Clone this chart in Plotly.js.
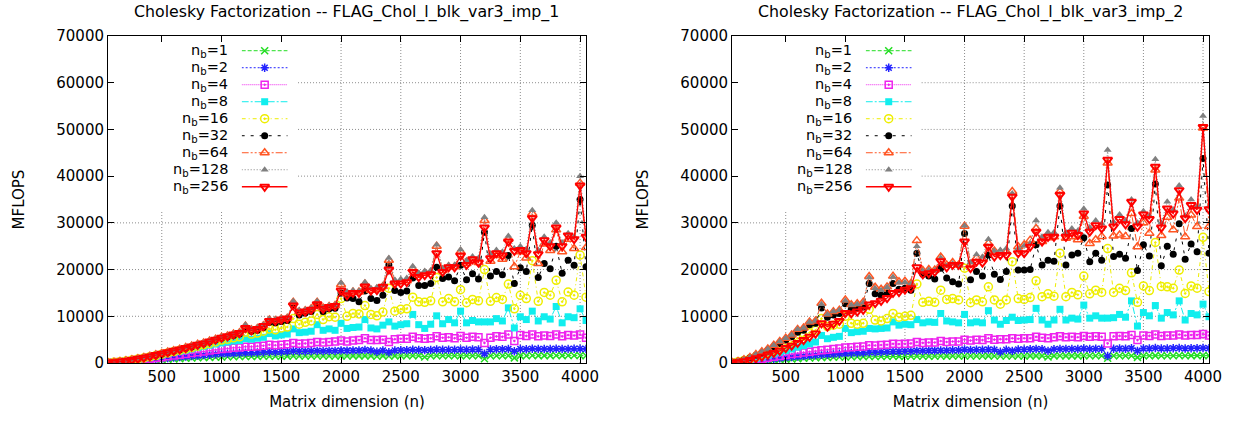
<!DOCTYPE html>
<html>
<head>
<meta charset="utf-8">
<script src="https://cdn.plot.ly/plotly-3.0.1.min.js"></script>
<style>html,body{margin:0;padding:0;background:#fff;}#chart{width:1234px;height:422px;}</style>
</head>
<body>
<div id="chart"></div>
<script>
// ---------- DATA ----------
const matrixDim = [50,100,150,200,250,300,350,400,450,500,550,600,650,700,750,800,850,900,950,1000,
1050,1100,1150,1200,1250,1300,1350,1400,1450,1500,1550,1600,1650,1700,1750,1800,1850,1900,1950,2000,
2050,2100,2150,2200,2250,2300,2350,2400,2450,2500,2550,2600,2650,2700,2750,2800,2850,2900,2950,3000,
3050,3100,3150,3200,3250,3300,3350,3400,3450,3500,3550,3600,3650,3700,3750,3800,3850,3900,3950,4000,4050];

const blockSizes = ["1","2","4","8","16","32","64","128","256"];
const titles = ["Cholesky Factorization -- FLAG_Chol_l_blk_var3_imp_1", "Cholesky Factorization -- FLAG_Chol_l_blk_var3_imp_2"];
const xTickVals = [500,1000,1500,2000,2500,3000,3500,4000];
const yTickVals = [0,10000,20000,30000,40000,50000,60000,70000];

// imp_1 (left panel)
const imp1_nb1 = [40,90,160,230,310,390,470,550,630,710,790,860,930,1000,1060,1110,1160,1210,1250,1290,
1320,1350,1380,1400,1400,1420,1440,1450,1450,1460,1470,1480,1480,1480,1490,1500,1500,1500,1500,1520,
1500,1520,1520,1530,1520,1450,1530,1480,1530,1540,1540,1550,1540,1300,1540,1560,1550,1550,1550,1560,
1550,1560,1560,900,1560,1570,1570,1580,1100,1580,1570,1590,1580,1580,1580,1590,1580,1590,1590,1600,1550];
const imp1_nb2 = [50,110,190,280,380,490,600,710,820,940,1050,1160,1270,1380,1480,1580,1680,1780,1870,1950,
2000,2050,2100,2200,2200,2250,2300,2400,2350,2400,2450,2550,2500,2500,2550,2600,2550,2600,2600,2700,
2650,2700,2700,2800,2700,2400,2700,2300,2700,2750,2750,2850,2800,2750,2800,2900,2850,2850,2850,2900,
2850,2900,2900,2000,2900,2950,2950,3000,2500,3000,2950,3050,3000,3000,3000,3050,3000,3000,3050,3050,3000];
const imp1_nb4 = [60,130,230,350,480,620,770,920,1080,1250,1420,1600,1780,1950,2120,2300,2480,2650,2820,3000,
3100,3250,3300,3500,3500,3600,3700,3900,3800,3900,4000,4300,4100,4200,4300,4500,4400,4500,4600,4800,
4600,4800,4900,5300,4900,4900,5000,4500,5100,5200,5200,5600,5300,5200,5300,5700,5400,5500,5300,5800,
5400,5600,5500,4300,5400,5700,5600,6100,4700,6000,5800,6100,5700,5900,5800,6100,5700,6000,5900,6100,5400];
const imp1_nb8 = [70,150,270,400,580,780,1000,1230,1470,1720,1980,2230,2500,2750,3000,3300,3550,3800,4050,4300,
4500,4700,4800,5200,5100,5300,5500,6300,5800,6000,6200,7300,6500,6600,6800,8200,7000,7300,7000,8500,
7400,7600,7700,9300,7500,7300,8100,8800,7900,8200,8400,10400,8200,7400,8300,10100,8400,9300,8600,11100,
8600,9100,8800,8800,8800,9500,9000,11800,7500,9900,9300,11100,9000,9900,9400,12100,8600,9900,9700,11600,9100];
const imp1_nb16 = [80,160,290,430,620,840,1070,1320,1580,1880,2150,2450,2750,3000,3300,3600,3900,4200,4500,4900,
5100,5400,5600,6600,6200,6400,6800,7300,7100,7500,7700,9500,8300,8700,9000,10400,9300,9900,9800,13800,
10000,10600,10500,12300,10400,10100,10900,16000,11100,11500,11600,14100,13100,13000,13300,18300,13100,13800,13100,15700,
12900,13600,13300,20000,13200,14000,13600,16900,11600,14500,13800,21900,13200,15100,14500,17700,13100,15200,14500,23100,14100];
const imp1_nb32 = [80,170,300,450,650,880,1120,1380,1650,1950,2250,2550,2850,3150,3500,3850,4150,4550,4900,5300,
5600,5900,6200,7300,6800,7000,7600,8700,8600,8900,9100,12300,10300,10700,11000,12400,11000,11600,11700,15000,
13900,13800,13100,15400,13800,13400,14500,21000,15500,15100,15400,18200,16600,16600,17000,20500,18100,18400,17600,20900,
17800,19100,18000,28000,18600,19600,18900,23000,17000,20400,19600,29500,18300,21300,20200,25000,19200,22000,20900,35000,20600];
const imp1_nb64 = [100,180,330,480,680,930,1180,1450,1750,2050,2350,2650,2950,3300,3650,4000,4300,4700,5100,5500,
5800,6200,6500,7900,7100,7400,8000,9200,9100,9400,9600,13000,11000,11200,11600,13000,11800,12100,12300,16800,
14800,15200,15200,16900,15600,15800,16400,22000,17300,17400,17600,20200,18800,19200,19400,25000,19800,20600,20600,23800,
21300,22000,21500,30500,21800,23000,22200,26500,20600,23800,22500,32000,21300,25500,24100,28500,23800,26500,24500,38500,24700];
const imp1_nb128 = [100,200,350,500,700,950,1200,1500,1800,2100,2400,2700,3000,3350,3700,4050,4350,4750,5150,5600,
5900,6300,6600,8200,7300,7600,8200,9400,9300,9600,9800,13200,11300,11400,11800,13200,11900,12300,12400,17200,
15300,15500,15400,17300,16000,16200,16600,22500,17800,18000,18200,20700,19300,19700,19800,25300,20300,21000,21000,24300,
22000,22800,22500,31200,23400,24200,23800,27200,24500,25000,24400,32700,24200,27000,25800,30000,25800,27800,27000,40000,27500];
const imp1_nb256 = [100,150,300,450,650,900,1150,1400,1700,2000,2300,2600,2900,3200,3550,3900,4200,4600,5000,5400,
5700,6100,6400,7500,7000,7300,7900,9000,9000,9300,9500,12300,10800,11000,11400,12600,11600,12000,12200,15500,
14500,15000,15000,16400,15500,15600,16300,20000,17000,17000,17300,19500,18400,18800,19000,23500,19500,20500,20500,23000,
21000,22200,21500,29000,22400,23500,23000,26000,24000,24200,23500,31000,23300,26300,25000,29000,25000,27300,26500,38000,27000];

// imp_2 (right panel)
const imp2_nb1 = [40,110,200,290,380,470,560,640,720,800,870,940,1000,1060,1110,1160,1200,1240,1270,1300,
1320,1340,1360,1400,1390,1400,1410,1430,1420,1430,1440,1460,1450,1460,1460,1480,1470,1480,1480,1500,
1490,1500,1500,1520,1500,1480,1500,1510,1510,1510,1520,1530,1520,1300,1520,1540,1530,1530,1530,1550,
1540,1550,1550,1000,1550,1560,1550,1570,1200,1570,1560,1580,1570,1570,1570,1590,1570,1580,1580,1600,1570];
const imp2_nb2 = [50,140,260,390,520,650,780,900,1020,1140,1260,1370,1470,1570,1660,1750,1830,1900,1970,2050,
2100,2150,2200,2300,2300,2350,2400,2450,2450,2500,2500,2600,2600,2650,2650,2700,2700,2750,2750,2900,
2800,2850,2850,2900,2850,2400,2850,2600,2900,2900,2950,3000,2950,2600,2950,3000,3000,3000,3000,3100,
3000,3050,3050,1500,3050,3100,3050,3150,2600,3100,3100,3200,3100,3100,3150,3200,3100,3150,3150,3200,3150];
const imp2_nb4 = [60,170,330,520,720,920,1120,1320,1520,1720,1900,2100,2250,2400,2550,2750,2850,3000,3100,3300,
3350,3500,3550,3800,3750,3850,3900,4100,4050,4100,4200,4500,4300,4400,4400,4700,4500,4600,4600,5000,
4800,5000,4900,5300,5000,5100,5100,5300,5200,5300,5300,5600,5400,5300,5500,5700,5500,5600,5500,5800,
5600,5700,5600,4200,5700,5800,5700,6000,4900,5900,5800,6100,5800,5900,5900,6100,5900,6000,6000,6200,5900];
const imp2_nb8 = [70,200,420,680,950,1250,1600,1950,2300,2650,3000,3400,3700,4100,4500,5900,5200,5500,5700,7400,
6500,6700,6800,7400,7300,7400,7500,8800,8100,8300,8200,9300,8600,8800,8700,10600,9000,8800,8600,10400,
8600,8800,8600,11200,9200,8300,9100,9800,9100,9200,9300,11700,9200,8300,9200,11500,9200,9600,9400,12400,
9600,10100,9600,9600,9700,10400,9800,13300,7900,10800,10100,12300,9600,10800,10300,13300,9200,10600,10300,12600,9900];
const imp2_nb16 = [80,250,550,900,1300,1750,2250,2800,3300,3900,4500,5300,5700,6500,7000,9500,7800,8100,8300,10000,
8500,8300,8500,11500,9200,9000,9500,10600,9800,10000,10200,16900,13000,13200,13000,15600,13600,13800,13500,20300,
12900,13500,13100,16300,13500,12600,13500,21700,13800,13600,14000,17600,14200,14800,14300,23500,14200,15100,14600,18600,
14800,15600,15100,24500,15100,16000,15500,19300,13000,16500,15500,25800,16400,16300,16000,19900,14900,16500,16000,26900,15300];
const imp2_nb32 = [90,280,650,1100,1650,2200,2800,3500,4200,4900,5600,6600,7000,8200,8500,11800,9800,10300,10600,12700,
11500,11800,12000,17000,14800,14500,15000,17000,15800,16000,15600,23500,19000,18600,18000,20300,18200,17400,16900,27700,
17800,19600,18600,23100,19000,17900,19600,33600,19900,19900,20000,25300,21000,22000,21800,33600,21000,23100,23500,26800,
21700,23500,22000,38100,22800,23300,22400,28800,19800,25300,22900,38300,20800,25000,23300,29800,22200,25500,23800,43800,23500];
const imp2_nb64 = [100,300,700,1200,1800,2400,3000,3800,4600,5300,6000,7200,7500,8800,9000,12800,10500,11000,11300,13500,
12500,12700,13000,18500,16200,15800,16300,18600,17400,17500,17000,26200,19800,20000,19900,22700,21000,21500,21000,29300,
21000,22500,22300,25600,24000,23700,23800,36700,24900,25300,26300,28800,26000,26800,27000,36700,26700,27000,26400,31400,
25600,26400,27100,42800,27200,27400,27100,32000,24900,30000,27800,41300,27300,31200,28500,35300,27000,31700,29200,50300,29200];
const imp2_nb128 = [100,300,700,1200,1800,2400,3000,3800,4600,5300,6000,7200,7500,8800,9000,12600,10400,11000,11300,13300,
12400,12600,12900,18300,16000,15600,16200,18400,17200,17300,16900,25000,19700,19900,19800,22500,20800,21300,20900,29400,
21500,23200,22700,26500,24000,24200,24500,36300,24500,25100,25600,30500,27000,28000,28000,37500,28000,28800,28300,33000,
29000,30500,29800,45600,30200,31800,30500,35000,30000,32500,31500,43600,30000,34500,32800,38000,31500,35000,33500,52900,33500];
const imp2_nb256 = [60,150,350,650,1000,1350,1750,2150,2600,3200,3700,4300,4900,5600,6300,8500,7800,8400,9000,10700,
10600,11000,11400,12500,12800,13300,13900,15000,15200,15700,16000,20500,19000,19200,19500,21800,20500,21000,21000,26000,
20300,21700,21500,24900,22800,23100,23100,35600,23500,23500,24900,28100,26000,27000,27000,36000,27000,27900,27400,32000,
28100,29500,28800,43500,29200,30800,29700,34500,29200,31800,30800,42000,29000,33100,32000,37000,31000,33800,32800,50500,32900];

const imp1Series = [imp1_nb1, imp1_nb2, imp1_nb4, imp1_nb8, imp1_nb16, imp1_nb32, imp1_nb64, imp1_nb128, imp1_nb256];
const imp2Series = [imp2_nb1, imp2_nb2, imp2_nb4, imp2_nb8, imp2_nb16, imp2_nb32, imp2_nb64, imp2_nb128, imp2_nb256];

// ---------- STYLES ----------
const FONT = "DejaVu Sans, Liberation Sans, Arial, sans-serif";
const FS_TICK = 15, FS_AXIS = 15, FS_TITLE = 15.8, FS_KEY = 14.5;
const styles = [
  {color:'#22dd22', dash:'4px,2px', symbol:'x-thin', size:7, lw:1.5, open:true},
  {color:'#2222ff', dash:'2px,2px', symbol:'asterisk', size:7, lw:1.5, open:true},
  {color:'#ee22ee', dash:'1px,1px', symbol:'square-open-dot', size:7, lw:1.5, open:true},
  {color:'#11eeee', dash:'7px,2px,2px,2px', symbol:'square', size:7, lw:0, open:false},
  {color:'#eeee00', dash:'4px,3px,1px,3px', symbol:'circle-open-dot', size:8, lw:1.5, open:true},
  {color:'#000000', dash:'3px,6px', symbol:'circle', size:7, lw:0, open:false},
  {color:'#ff5522', dash:'7px,2px,2px,2px,2px,2px', symbol:'triangle-up-open', size:8, lw:1.5, open:true},
  {color:'#808080', dash:'1px,2px', symbol:'triangle-up', size:7, lw:0, open:false},
  {color:'#ff0000', dash:'solid', symbol:'triangle-down-open', size:8, lw:2, open:true}
];

function markerFor(st) {
  const m = {symbol: st.symbol, size: st.size, color: st.color};
  m.line = st.open ? {color: st.color, width: st.lw} : {width: 0};
  return m;
}

const traces = [];
[imp1Series, imp2Series].forEach((series, p) => {
  series.forEach((vals, k) => {
    const st = styles[k];
    traces.push({
      type:'scatter', mode:'lines+markers',
      x: matrixDim, y: vals,
      xaxis: p === 0 ? 'x' : 'x2', yaxis: p === 0 ? 'y' : 'y2',
      line: {color: st.color, width: k === 8 ? 1.3 : 1, dash: st.dash},
      marker: markerFor(st),
      name: 'nb=' + blockSizes[k], showlegend:false, hoverinfo:'skip'
    });
  });
});

// key (gnuplot style: text left, sample right) drawn on hidden axes
const annotations = [];
const keyAxes = [['x3','y3', 0.1108], ['x4','y4', 0.6776]];
keyAxes.forEach(([xa, ya, textX]) => {
  blockSizes.forEach((nb, k) => {
    const st = styles[k];
    const row = 8 - k;
    const m = markerFor(st);
    m.opacity = [0, 1, 0];
    traces.push({
      type:'scatter', mode:'lines+markers', x:[0, 0.5, 1], y:[row, row, row],
      xaxis: xa, yaxis: ya, cliponaxis:false,
      line:{color: st.color, width: k === 8 ? 1.3 : 1, dash: st.dash},
      marker: m, showlegend:false, hoverinfo:'skip'
    });
    annotations.push({
      text: 'n<sub>b</sub>=' + nb, xref:'paper', yref: ya, x: textX, y: row,
      xanchor:'right', yanchor:'middle', showarrow:false,
      font:{family: FONT, size: FS_KEY, color:'#000'}
    });
  });
});

// panel titles
[[0.217, titles[0]], [0.7834, titles[1]]].forEach(([x, t]) => {
  annotations.push({text: t, xref:'paper', yref:'paper', x: x, y: 1.0734,
    xanchor:'center', yanchor:'middle', showarrow:false,
    font:{family: FONT, size: FS_TITLE, color:'#000'}});
});

// grid lines (dotted), interrupted by the key box, as gnuplot does
const KEY_X_END = 1640, KEY_Y_START = 32500;
const GRID = {color:'#8c8c8c', width:1, dash:'1px,2px'};
const shapes = [];
[['x','y'], ['x2','y2']].forEach(([xr, yr]) => {
  xTickVals.forEach(v => {
    shapes.push({type:'line', xref:xr, yref:yr, x0:v, x1:v, y0:0,
      y1: v < KEY_X_END ? KEY_Y_START : 70000, line:GRID, layer:'below'});
  });
  yTickVals.slice(1, 7).forEach(v => {
    shapes.push({type:'line', xref:xr, yref:yr, y0:v, y1:v,
      x0: v > KEY_Y_START ? KEY_X_END : 50, x1:4050, line:GRID, layer:'below'});
  });
});

function xAxis(domain, anchor) {
  return {
    domain: domain, anchor: anchor, range:[50, 4050], autorange:false,
    tickvals: xTickVals, ticktext: xTickVals.map(String),
    ticks:'inside', ticklen:6, tickcolor:'#000', mirror:'ticks',
    showline:true, linecolor:'#000', linewidth:1,
    showgrid:false, zeroline:false,
    tickfont:{family: FONT, size: FS_TICK, color:'#000'},
    title:{text:'Matrix dimension (n)', standoff: 11, font:{family: FONT, size: FS_AXIS, color:'#000'}}
  };
}
function yAxis(anchor) {
  return {
    domain:[0,1], anchor: anchor, range:[0, 70000], autorange:false,
    tickvals: yTickVals, ticktext: yTickVals.map(String),
    ticks:'inside', ticklen:6, tickcolor:'#000', mirror:'ticks',
    showline:true, linecolor:'#000', linewidth:1,
    showgrid:false, zeroline:false,
    tickfont:{family: FONT, size: FS_TICK, color:'#000'},
    title:{text:'MFLOPS', standoff: 28, font:{family: FONT, size: FS_AXIS, color:'#000'}}
  };
}

const hidden = (domain, anchor, range) => ({domain: domain, anchor: anchor, range: range, autorange:false,
  visible:false, showgrid:false, zeroline:false, fixedrange:true});

const layout = {
  width:1234, height:422,
  margin:{l:108, r:25, t:36, b:59},
  paper_bgcolor:'#fff', plot_bgcolor:'#fff',
  showlegend:false,
  font:{family: FONT, size: FS_TICK, color:'#000'},
  xaxis: xAxis([0, 0.4342], 'y'),
  yaxis: yAxis('x'),
  xaxis2: xAxis([0.5668, 1], 'y2'),
  yaxis2: yAxis('x2'),
  xaxis3: hidden([0.1214, 0.1632], 'y3', [0, 1]),
  yaxis3: hidden([0.513, 0.981], 'x3', [-0.5, 8.5]),
  xaxis4: hidden([0.6882, 0.7300], 'y4', [0, 1]),
  yaxis4: hidden([0.513, 0.981], 'x4', [-0.5, 8.5]),
  annotations: annotations,
  shapes: shapes
};

Plotly.newPlot('chart', traces, layout, {displayModeBar:false});
</script>
</body>
</html>
